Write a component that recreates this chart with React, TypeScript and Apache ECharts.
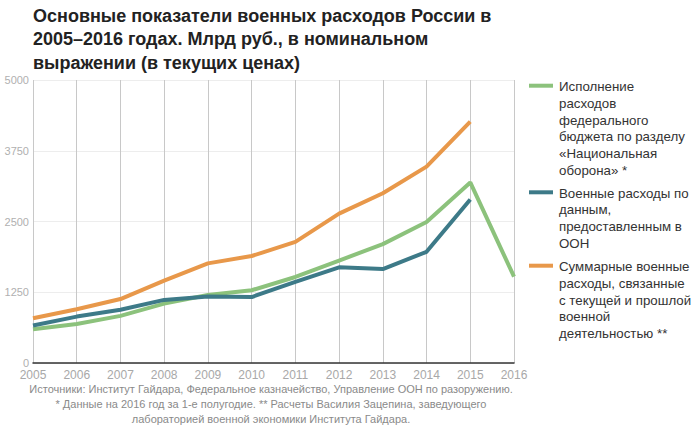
import React, { useEffect, useRef } from "react";
import * as echarts from "echarts";

const years = ["2005","2006","2007","2008","2009","2010","2011","2012","2013","2014","2015","2016"];
const defenseBudget = [595, 690, 833, 1050, 1200, 1285, 1520, 1810, 2100, 2490, 3190, 1525];
const unReported = [662, 820, 940, 1115, 1175, 1165, 1435, 1690, 1660, 1965, 2890, null];
const totalMilitary = [790, 950, 1130, 1455, 1760, 1890, 2140, 2640, 3000, 3470, 4265, null];
const yTicks = [0, 1250, 2500, 3750, 5000];

const seriesNames = [
  "Исполнение\nрасходов\nфедерального\nбюджета по разделу\n«Национальная\nоборона» *",
  "Военные расходы по\nданным,\nпредоставленным в\nООН",
  "Суммарные военные\nрасходы, связанные\nс текущей и прошлой\nвоенной\nдеятельностью **",
];
const colors = ["#8cc27c", "#3d7a88", "#e8984a"];

const titleText = "Основные показатели военных расходов России в\n2005–2016 годах. Млрд руб., в номинальном\nвыражении (в текущих ценах)";
const footText = "Источники: Институт Гайдара, Федеральное казначейство, Управление ООН по разоружению.\n* Данные на 2016 год за 1-е полугодие. ** Расчеты Василия Зацепина, заведующего\nлабораторией военной экономики Института Гайдара.";

const FONT = "'Liberation Sans', Arial, sans-serif";

export default function App() {
  const ref = useRef<HTMLDivElement>(null);
  useEffect(() => {
    document.body.style.margin = "0";
    const chart = echarts.init(ref.current!, null, { renderer: "svg" });
    const legendTops = [86.7, 193.3, 266.7];
    const legendGraphics: any[] = [];
    seriesNames.forEach((name, i) => {
      legendGraphics.push({
        type: "line",
        shape: { x1: 529, y1: legendTops[i] - 1, x2: 553, y2: legendTops[i] - 1 },
        style: { stroke: colors[i], lineWidth: 4 },
      });
      legendGraphics.push({
        type: "text",
        x: 559,
        y: legendTops[i] - 8.35,
        style: {
          text: name,
          font: `13.3px ${FONT}`,
          fill: "#333",
          lineHeight: 16.7,
          textVerticalAlign: "top",
        },
      });
    });
    chart.setOption({
      animation: false,
      backgroundColor: "#fff",
      title: {
        text: titleText,
        left: 33,
        top: 4,
        padding: 0,
        textStyle: { fontFamily: FONT, fontSize: 18, fontWeight: "bold", color: "#222", lineHeight: 23.5 },
      },
      grid: { left: 33, right: 181, top: 80, bottom: 62, containLabel: false },
      xAxis: {
        type: "category",
        data: years,
        boundaryGap: false,
        axisLine: { lineStyle: { color: "#333", width: 1.5 } },
        axisTick: { show: false },
        axisLabel: { color: "#a8a8a8", fontFamily: FONT, fontSize: 12, lineHeight: 12, margin: 6, interval: 0 },
        splitLine: { show: true, lineStyle: { color: "#c8c8c8", width: 1 } },
      },
      yAxis: {
        type: "value",
        min: 0,
        max: 5000,
        interval: 1250,
        axisLine: { show: false },
        axisTick: { show: false },
        axisLabel: {
          color: "#b0b0b0",
          fontFamily: FONT,
          fontSize: 11,
          lineHeight: 9,
          margin: 4,
          formatter: (v: number) => (yTicks.includes(v) ? String(v) : ""),
        },
        splitLine: { lineStyle: { color: "#ededed", width: 1 } },
      },
      series: [
        { name: seriesNames[0], type: "line", data: defenseBudget, color: colors[0], lineStyle: { width: 4 }, showSymbol: false, z: 3 },
        { name: seriesNames[1], type: "line", data: unReported, color: colors[1], lineStyle: { width: 4 }, showSymbol: false, z: 4 },
        { name: seriesNames[2], type: "line", data: totalMilitary, color: colors[2], lineStyle: { width: 4 }, showSymbol: false, z: 5 },
      ],
      graphic: [
        ...legendGraphics,
        {
          type: "text",
          x: 271,
          y: 381,
          style: {
            text: footText,
            font: `11px ${FONT}`,
            fill: "#8a8a8a",
            lineHeight: 15,
            textAlign: "center",
            textVerticalAlign: "top",
          },
        },
      ],
    });
    return () => chart.dispose();
  }, []);
  return <div ref={ref} style={{ width: 695, height: 425 }} />;
}
